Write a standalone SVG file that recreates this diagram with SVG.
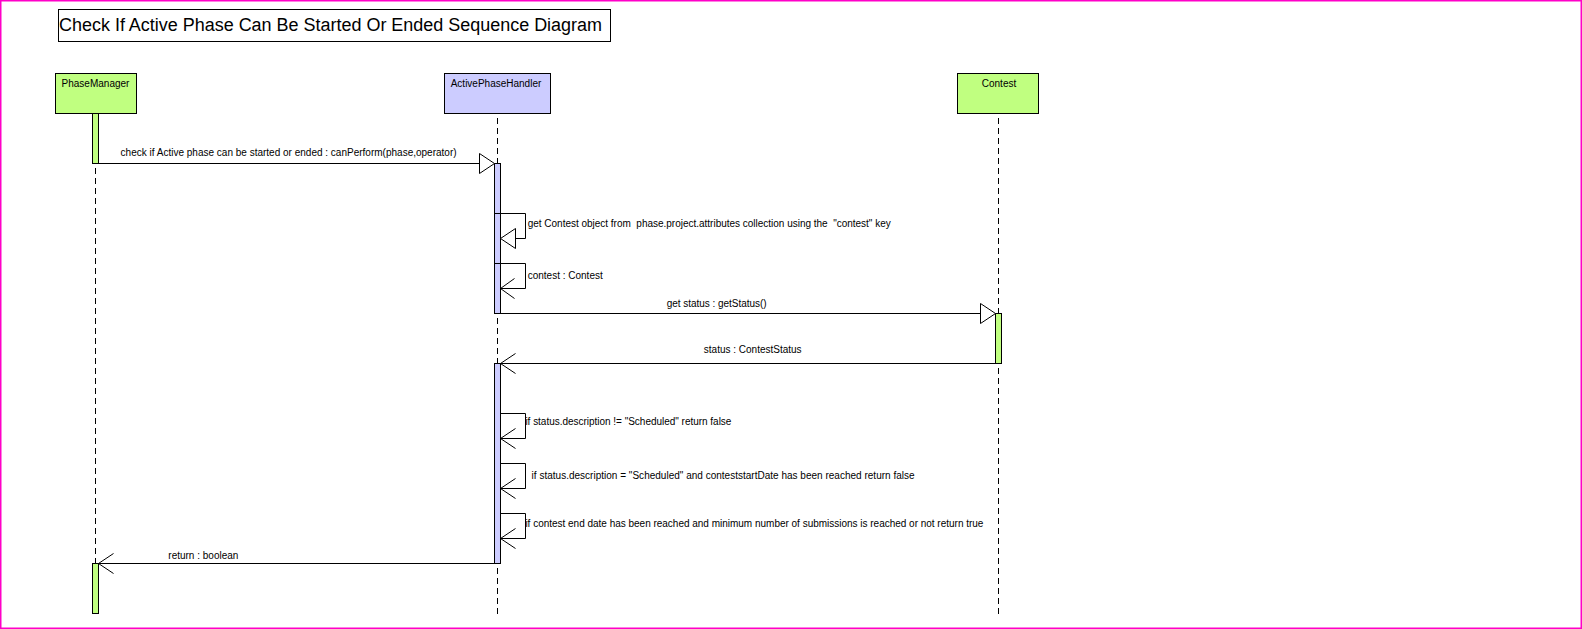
<svg xmlns="http://www.w3.org/2000/svg" width="1582" height="629" viewBox="0 0 1582 629">
<style>
  text { font-family: "Liberation Sans", Arial, sans-serif; fill: #000; white-space: pre; }
  .lbl { font-size: 10px; }
  .box { stroke: #000; stroke-width: 1; }
  .green { fill: #c0ff80; }
  .blue { fill: #ccccff; }
  .life { stroke: #000; stroke-width: 1; stroke-dasharray: 6 4; fill: none; }
  .msg { stroke: #000; stroke-width: 1; fill: none; }
  .tri { stroke: #000; stroke-width: 1; fill: #fff; }
</style>
<rect x="0" y="0" width="1582" height="629" fill="#fff"/>
<rect x="0.75" y="0.75" width="1580.5" height="627.5" fill="none" stroke="#ff00c8" stroke-width="1.5"/>

<g id="title">
  <rect x="58.5" y="9.5" width="552" height="32" fill="#fff" stroke="#000"/>
  <text x="59" y="31" font-size="18" textLength="543" lengthAdjust="spacingAndGlyphs">Check If Active Phase Can Be Started Or Ended Sequence Diagram</text>
</g>

<g id="PhaseManager">
  <line class="life" x1="95.5" y1="118" x2="95.5" y2="618"/>
  <rect class="box green" x="55.5" y="73.5" width="81" height="40"/>
  <text class="lbl" x="95.5" y="87.3" text-anchor="middle">PhaseManager</text>
  <rect class="box green" x="92.5" y="113.5" width="6" height="50"/>
  <rect class="box green" x="92.5" y="563.5" width="6" height="50"/>
</g>

<g id="ActivePhaseHandler">
  <line class="life" x1="497.5" y1="118" x2="497.5" y2="618"/>
  <rect class="box blue" x="444.5" y="73.5" width="106" height="40"/>
  <text class="lbl" x="496" y="87.3" text-anchor="middle">ActivePhaseHandler</text>
  <rect class="box blue" x="494.5" y="163.5" width="6" height="150"/>
  <rect class="box blue" x="494.5" y="363.5" width="6" height="200"/>
</g>

<g id="Contest">
  <line class="life" x1="998.5" y1="118" x2="998.5" y2="618"/>
  <rect class="box green" x="957.5" y="73.5" width="81" height="40"/>
  <text class="lbl" x="999" y="87.3" text-anchor="middle">Contest</text>
  <rect class="box green" x="995.5" y="313.5" width="6" height="50"/>
</g>

<g id="connectors">
  <!-- 1 canPerform -->
  <line class="msg" x1="98.5" y1="163.5" x2="479.5" y2="163.5"/>
  <polygon class="tri" points="479.5,153.5 494.5,163.5 479.5,173.5"/>
  <text class="lbl" x="120.6" y="155.7" textLength="336" lengthAdjust="spacing">check if Active phase can be started or ended : canPerform(phase,operator)</text>

  <!-- 2 self get Contest -->
  <polyline class="msg" points="494.5,213.5 525.5,213.5 525.5,238.5 515.5,238.5"/>
  <polygon class="tri" points="515.5,228.5 500.5,238.5 515.5,248.5"/>
  <text class="lbl" x="527.7" y="226.7" textLength="363" lengthAdjust="spacing">get Contest object from  phase.project.attributes collection using the  "contest" key</text>

  <!-- 3 self contest : Contest -->
  <polyline class="msg" points="494.5,263.5 525.5,263.5 525.5,288.5 500.5,288.5"/>
  <polyline class="msg" points="514.5,278.5 500.5,288.5 514.5,298.5"/>
  <text class="lbl" x="527.7" y="279">contest : Contest</text>

  <!-- 4 get status -->
  <line class="msg" x1="500.5" y1="313.5" x2="980.5" y2="313.5"/>
  <polygon class="tri" points="980.5,303.5 995.5,313.5 980.5,323.5"/>
  <text class="lbl" x="666.7" y="307.3" textLength="100" lengthAdjust="spacing">get status : getStatus()</text>

  <!-- 5 status return -->
  <line class="msg" x1="995.5" y1="363.5" x2="500.5" y2="363.5"/>
  <polyline class="msg" points="515.5,353.5 500.5,363.5 515.5,373.5"/>
  <text class="lbl" x="703.8" y="353">status : ContestStatus</text>

  <!-- 6 self -->
  <polyline class="msg" points="500.5,413.5 525.5,413.5 525.5,438.5 500.5,438.5"/>
  <polyline class="msg" points="515.5,428.5 500.5,438.5 515.5,448.5"/>
  <text class="lbl" x="525.4" y="425.3" textLength="206" lengthAdjust="spacing">if status.description != "Scheduled" return false</text>

  <!-- 7 self -->
  <polyline class="msg" points="500.5,463.5 525.5,463.5 525.5,488.5 500.5,488.5"/>
  <polyline class="msg" points="515.5,478.5 500.5,488.5 515.5,498.5"/>
  <text class="lbl" x="531.6" y="479" textLength="383" lengthAdjust="spacing">if status.description = "Scheduled" and conteststartDate has been reached return false</text>

  <!-- 8 self -->
  <polyline class="msg" points="500.5,513.5 525.5,513.5 525.5,538.5 500.5,538.5"/>
  <polyline class="msg" points="515.5,528.5 500.5,538.5 515.5,548.5"/>
  <text class="lbl" x="525.4" y="527.3" textLength="458" lengthAdjust="spacing">if contest end date has been reached and minimum number of submissions is reached or not return true</text>

  <!-- 9 return boolean -->
  <line class="msg" x1="494.5" y1="563.5" x2="98.5" y2="563.5"/>
  <polyline class="msg" points="113.5,553.5 98.5,563.5 113.5,573.5"/>
  <text class="lbl" x="168.3" y="559">return : boolean</text>
</g>
</svg>
